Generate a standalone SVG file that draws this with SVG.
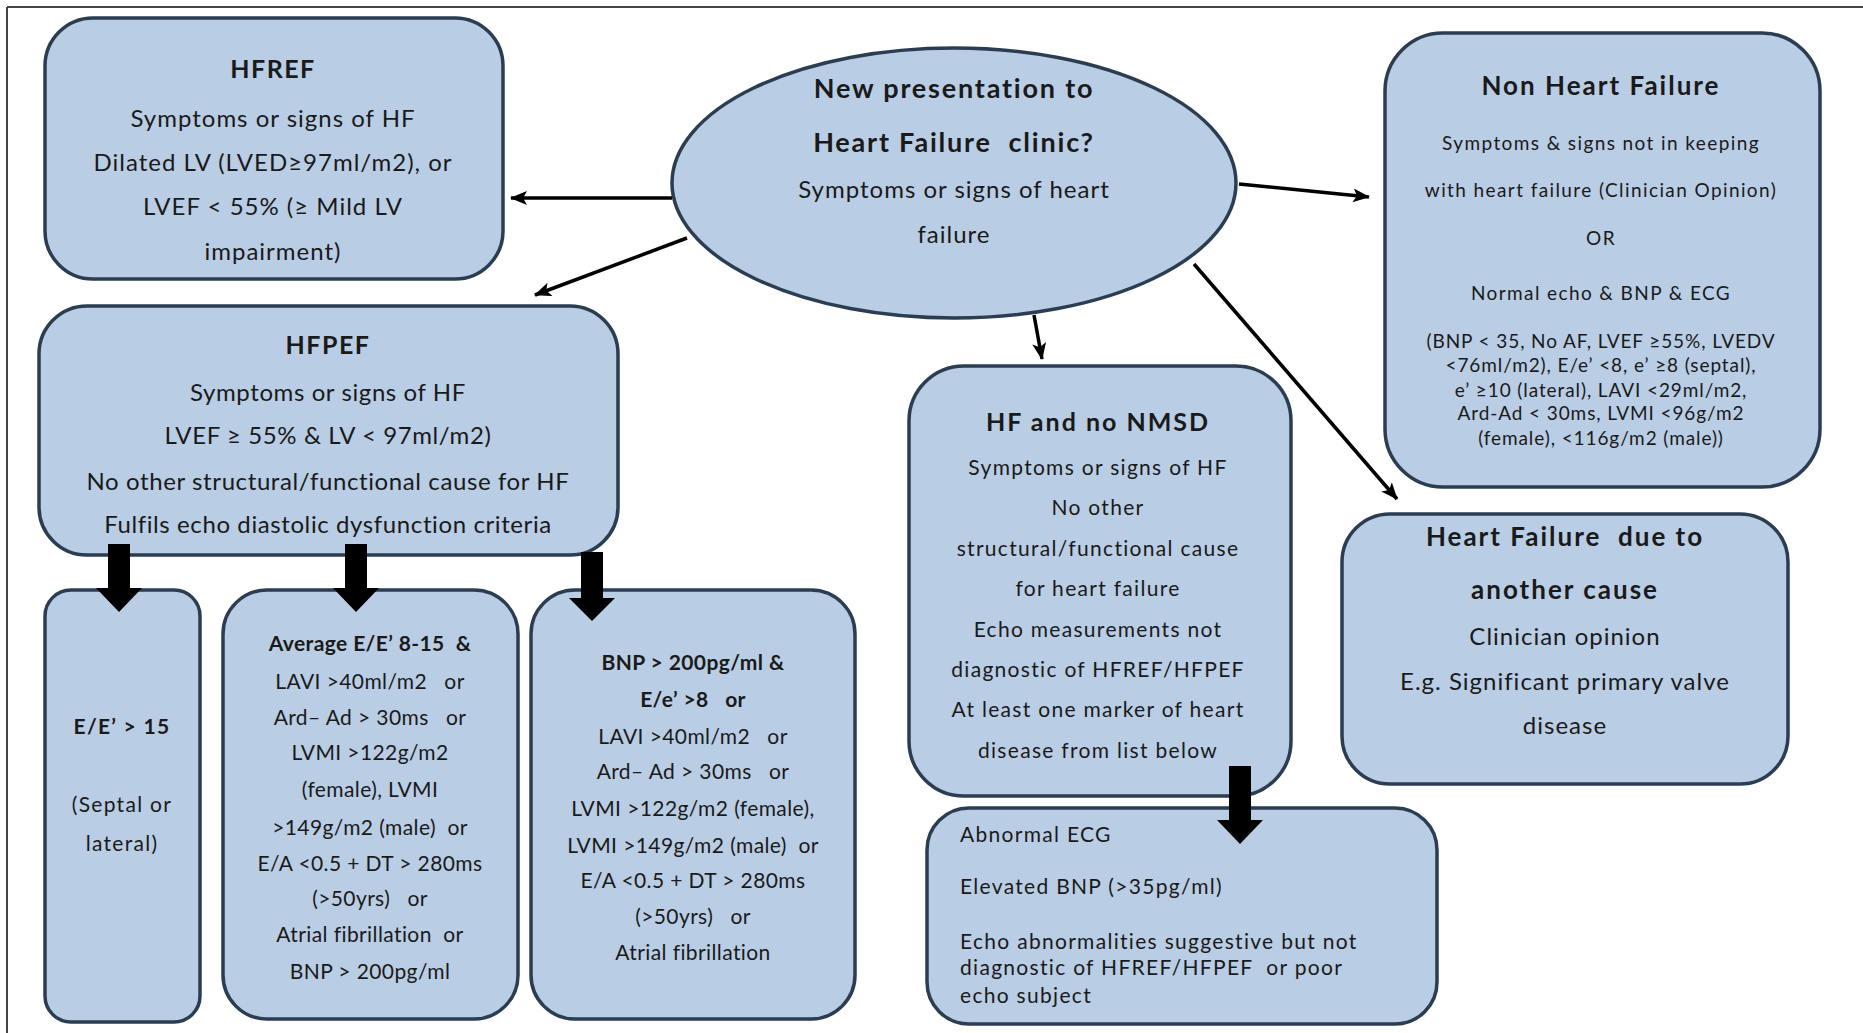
<svg xmlns="http://www.w3.org/2000/svg" width="1863" height="1033" viewBox="0 0 1863 1033">
<style>
.box{fill:#B9CDE5;stroke:#2B3D50;stroke-width:3.5}
text{font-family:Lato,"Open Sans","Liberation Sans",sans-serif;fill:#1a1a1a;text-anchor:middle;white-space:pre}
.b{font-weight:bold}
.ttl{font-size:26px;letter-spacing:2px;font-weight:bold}
.m{font-size:24px;letter-spacing:1px}
.mp{font-size:24px;letter-spacing:0.6px}
.s{font-size:21px;letter-spacing:1.3px}
.c{font-size:21px;letter-spacing:0.4px}
.n{font-size:19px;letter-spacing:1.4px}
.np{font-size:19px;letter-spacing:0.9px}
.lft{text-anchor:start}
.thin{stroke:#000;stroke-width:3.5;fill:none;marker-end:url(#ah)}
.blk{fill:#000}
</style>
<defs>
<marker id="ah" markerUnits="userSpaceOnUse" markerWidth="20" markerHeight="16" refX="16" refY="7" orient="auto">
<path d="M0,0 L17,7 L0,14 L4,7 Z" fill="#000"/>
</marker>
</defs>
<rect width="1863" height="1033" fill="#fff"/>
<g id="frame" stroke="#444" stroke-width="2">
<line x1="7" y1="7" x2="1863" y2="7"/>
<line x1="7" y1="7" x2="7" y2="1033"/>
</g>

<g id="connectors">
<line class="thin" x1="672" y1="198" x2="511" y2="198"/>
<line class="thin" x1="687" y1="238" x2="535" y2="295"/>
<line class="thin" x1="1239" y1="184" x2="1369" y2="197"/>
<line class="thin" x1="1034" y1="315" x2="1042" y2="359"/>
<line class="thin" x1="1194" y1="264" x2="1397" y2="499"/>
</g>

<g id="hfref">
<rect class="box" x="45" y="18" width="458" height="261" rx="48"/>
<text class="b" font-size="25" letter-spacing="1.5" x="273" y="78">HFREF</text>
<text class="m" x="273" y="127">Symptoms or signs of HF</text>
<text class="m" x="273" y="171">Dilated LV (LVED≥97ml/m2), or</text>
<text class="m" x="273" y="215">LVEF &lt; 55% (≥ Mild LV</text>
<text class="m" x="273" y="260">impairment)</text>
</g>

<g id="start">
<ellipse class="box" cx="954" cy="183" rx="282" ry="135"/>
<text class="b" font-size="27" letter-spacing="1.8" x="954" y="98">New presentation to</text>
<text class="b" font-size="27" letter-spacing="1.8" x="954" y="152">Heart Failure  clinic?</text>
<text class="m" x="954" y="198">Symptoms or signs of heart</text>
<text class="m" x="954" y="243">failure</text>
</g>

<g id="nonhf">
<rect class="box" x="1385" y="33" width="435" height="454" rx="58"/>
<text class="ttl" x="1601" y="95">Non Heart Failure</text>
<text class="n" x="1601" y="150">Symptoms &amp; signs not in keeping</text>
<text class="n" x="1601" y="197">with heart failure (Clinician Opinion)</text>
<text class="n" x="1601" y="245">OR</text>
<text class="n" x="1601" y="300">Normal echo &amp; BNP &amp; ECG</text>
<text class="np" x="1601" y="348">(BNP &lt; 35, No AF, LVEF ≥55%, LVEDV</text>
<text class="np" x="1601" y="372">&lt;76ml/m2), E/e’ &lt;8, e’ ≥8 (septal),</text>
<text class="np" x="1601" y="397">e’ ≥10 (lateral), LAVI &lt;29ml/m2,</text>
<text class="np" x="1601" y="420">Ard-Ad &lt; 30ms, LVMI &lt;96g/m2</text>
<text class="np" x="1601" y="445">(female), &lt;116g/m2 (male))</text>
</g>

<g id="hfpef">
<rect class="box" x="39" y="306" width="579" height="249" rx="48"/>
<text class="b" font-size="25" letter-spacing="1.5" x="328" y="354">HFPEF</text>
<text class="mp" x="328" y="401">Symptoms or signs of HF</text>
<text class="mp" x="328" y="444">LVEF ≥ 55% &amp; LV &lt; 97ml/m2)</text>
<text class="mp" x="328" y="490">No other structural/functional cause for HF</text>
<text class="mp" x="328" y="533">Fulfils echo diastolic dysfunction criteria</text>
</g>

<g id="ee15">
<rect class="box" x="45" y="590" width="155" height="432" rx="26"/>
<text class="s b" x="122" y="734">E/E’ &gt; 15</text>
<text class="s" x="122" y="812">(Septal or</text>
<text class="s" x="122" y="851">lateral)</text>
</g>

<g id="avg">
<rect class="box" x="223" y="590" width="295" height="429" rx="44"/>
<text class="c b" x="370" y="651">Average E/E’ 8-15  &amp;</text>
<text class="c" x="370" y="689">LAVI &gt;40ml/m2   or</text>
<text class="c" x="370" y="725">Ard– Ad &gt; 30ms   or</text>
<text class="c" x="370" y="760">LVMI &gt;122g/m2</text>
<text class="c" x="370" y="797">(female), LVMI</text>
<text class="c" x="370" y="835">&gt;149g/m2 (male)  or</text>
<text class="c" x="370" y="871">E/A &lt;0.5 + DT &gt; 280ms</text>
<text class="c" x="370" y="906">(&gt;50yrs)   or</text>
<text class="c" x="370" y="942">Atrial fibrillation  or</text>
<text class="c" x="370" y="979">BNP &gt; 200pg/ml</text>
</g>

<g id="bnp">
<rect class="box" x="531" y="590" width="324" height="429" rx="44"/>
<text class="c b" x="693" y="670">BNP &gt; 200pg/ml &amp;</text>
<text class="c b" x="693" y="707">E/e’ &gt;8   or</text>
<text class="c" x="693" y="744">LAVI &gt;40ml/m2   or</text>
<text class="c" x="693" y="779">Ard– Ad &gt; 30ms   or</text>
<text class="c" x="693" y="816">LVMI &gt;122g/m2 (female),</text>
<text class="c" x="693" y="853">LVMI &gt;149g/m2 (male)  or</text>
<text class="c" x="693" y="888">E/A &lt;0.5 + DT &gt; 280ms</text>
<text class="c" x="693" y="924">(&gt;50yrs)   or</text>
<text class="c" x="693" y="960">Atrial fibrillation</text>
</g>

<g id="nmsd">
<rect class="box" x="909" y="366" width="382" height="430" rx="55"/>
<text class="b" font-size="25" letter-spacing="2" x="1098" y="431">HF and no NMSD</text>
<text class="s" x="1098" y="475">Symptoms or signs of HF</text>
<text class="s" x="1098" y="515">No other</text>
<text class="s" x="1098" y="556">structural/functional cause</text>
<text class="s" x="1098" y="596">for heart failure</text>
<text class="s" x="1098" y="637">Echo measurements not</text>
<text class="s" x="1098" y="677">diagnostic of HFREF/HFPEF</text>
<text class="s" x="1098" y="717">At least one marker of heart</text>
<text class="s" x="1098" y="758">disease from list below</text>
</g>

<g id="markers">
<rect class="box" x="927" y="808" width="510" height="216" rx="42"/>
<text class="s lft" x="960" y="842">Abnormal ECG</text>
<text class="s lft" x="960" y="894">Elevated BNP (&gt;35pg/ml)</text>
<text class="s lft" x="960" y="949">Echo abnormalities suggestive but not</text>
<text class="s lft" x="960" y="975">diagnostic of HFREF/HFPEF  or poor</text>
<text class="s lft" x="960" y="1003">echo subject</text>
</g>

<g id="othercause">
<rect class="box" x="1342" y="514" width="446" height="270" rx="48"/>
<text class="ttl" x="1565" y="546">Heart Failure  due to</text>
<text class="ttl" x="1565" y="599">another cause</text>
<text class="m" x="1565" y="645">Clinician opinion</text>
<text class="m" x="1565" y="690">E.g. Significant primary valve</text>
<text class="m" x="1565" y="734">disease</text>
</g>

<g id="block-arrows">
<polygon class="blk" points="108,544 130,544 130,588 142,588 119,612 96,588 108,588"/>
<polygon class="blk" points="345,544 367,544 367,588 379,588 356,612 333,588 345,588"/>
<polygon class="blk" points="581,552 603,552 603,598 615,598 592,621 569,598 581,598"/>
<polygon class="blk" points="1229,766 1251,766 1251,820 1263,820 1240,844 1217,820 1229,820"/>
</g>
</svg>
